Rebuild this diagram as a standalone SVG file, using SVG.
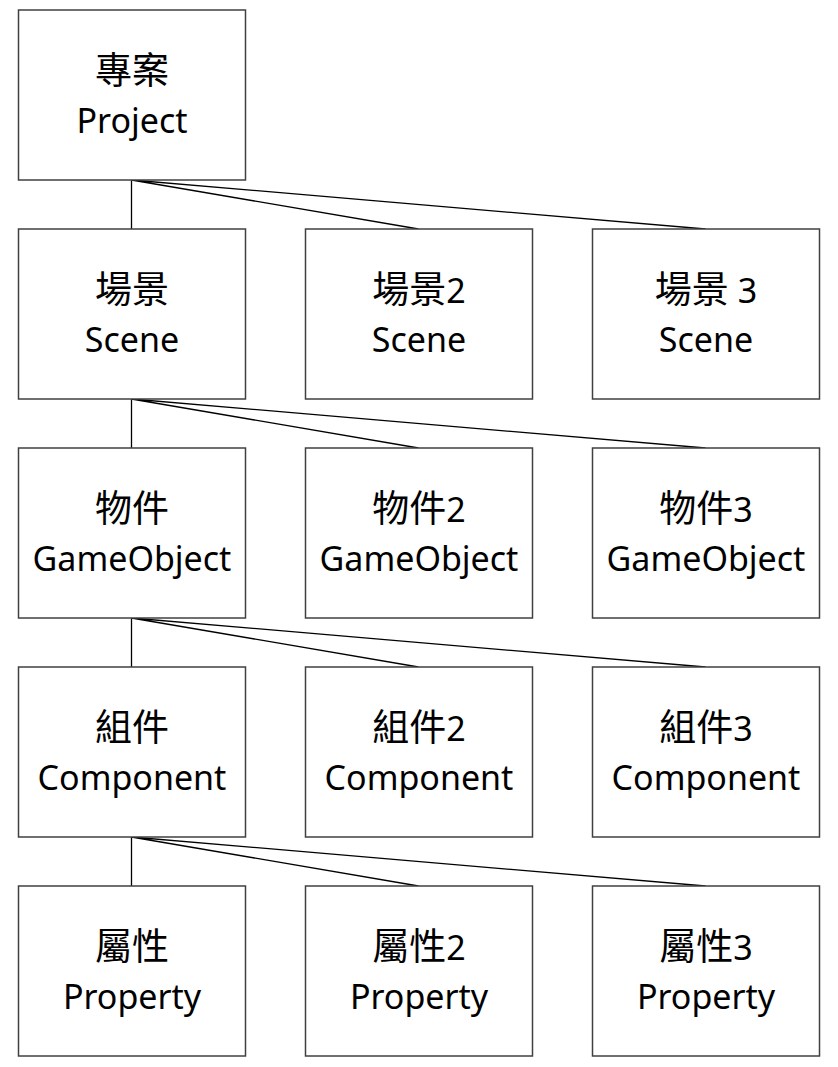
<svg xmlns="http://www.w3.org/2000/svg" width="838" height="1067" viewBox="0 0 838 1067">
<style>
.box{fill:#fff;stroke:#404040;stroke-width:1.5}
.t{font-family:"Noto Sans","Noto Sans CJK TC",sans-serif;font-size:34px;fill:#000;text-anchor:middle}
.k{font-size:37px}
.c{stroke:#000;stroke-width:1.3;fill:none}
</style>
<rect width="838" height="1067" fill="#fff"/>
<g id="connectors">
<path class="c" d="M131.5 180V229M131.5 180L418.5 229M131.5 180L705.5 229"/>
<path class="c" d="M131.5 399V448M131.5 399L418.5 448M131.5 399L705.5 448"/>
<path class="c" d="M131.5 618V667M131.5 618L418.5 667M131.5 618L705.5 667"/>
<path class="c" d="M131.5 837V886M131.5 837L418.5 886M131.5 837L705.5 886"/>
</g>
<g id="project"><rect class="box" x="18.5" y="10" width="227" height="170"/><text class="t" x="132" y="84"><tspan class="k">專案</tspan></text><text class="t" x="132" y="133">Project</text></g>
<g id="scene1"><rect class="box" x="18.5" y="229" width="227" height="170"/><text class="t" x="132" y="303"><tspan class="k">場景</tspan></text><text class="t" x="132" y="352">Scene</text></g>
<g id="scene2"><rect class="box" x="305.5" y="229" width="227" height="170"/><text class="t" x="419" y="303"><tspan class="k">場景</tspan>2</text><text class="t" x="419" y="352">Scene</text></g>
<g id="scene3"><rect class="box" x="592.5" y="229" width="227" height="170"/><text class="t" x="706" y="303"><tspan class="k">場景</tspan> 3</text><text class="t" x="706" y="352">Scene</text></g>
<g id="obj1"><rect class="box" x="18.5" y="448" width="227" height="170"/><text class="t" x="132" y="522"><tspan class="k">物件</tspan></text><text class="t" x="132" y="571">GameObject</text></g>
<g id="obj2"><rect class="box" x="305.5" y="448" width="227" height="170"/><text class="t" x="419" y="522"><tspan class="k">物件</tspan>2</text><text class="t" x="419" y="571">GameObject</text></g>
<g id="obj3"><rect class="box" x="592.5" y="448" width="227" height="170"/><text class="t" x="706" y="522"><tspan class="k">物件</tspan>3</text><text class="t" x="706" y="571">GameObject</text></g>
<g id="comp1"><rect class="box" x="18.5" y="667" width="227" height="170"/><text class="t" x="132" y="741"><tspan class="k">組件</tspan></text><text class="t" x="132" y="790">Component</text></g>
<g id="comp2"><rect class="box" x="305.5" y="667" width="227" height="170"/><text class="t" x="419" y="741"><tspan class="k">組件</tspan>2</text><text class="t" x="419" y="790">Component</text></g>
<g id="comp3"><rect class="box" x="592.5" y="667" width="227" height="170"/><text class="t" x="706" y="741"><tspan class="k">組件</tspan>3</text><text class="t" x="706" y="790">Component</text></g>
<g id="prop1"><rect class="box" x="18.5" y="886" width="227" height="170"/><text class="t" x="132" y="960"><tspan class="k">屬性</tspan></text><text class="t" x="132" y="1009">Property</text></g>
<g id="prop2"><rect class="box" x="305.5" y="886" width="227" height="170"/><text class="t" x="419" y="960"><tspan class="k">屬性</tspan>2</text><text class="t" x="419" y="1009">Property</text></g>
<g id="prop3"><rect class="box" x="592.5" y="886" width="227" height="170"/><text class="t" x="706" y="960"><tspan class="k">屬性</tspan>3</text><text class="t" x="706" y="1009">Property</text></g>
</svg>
